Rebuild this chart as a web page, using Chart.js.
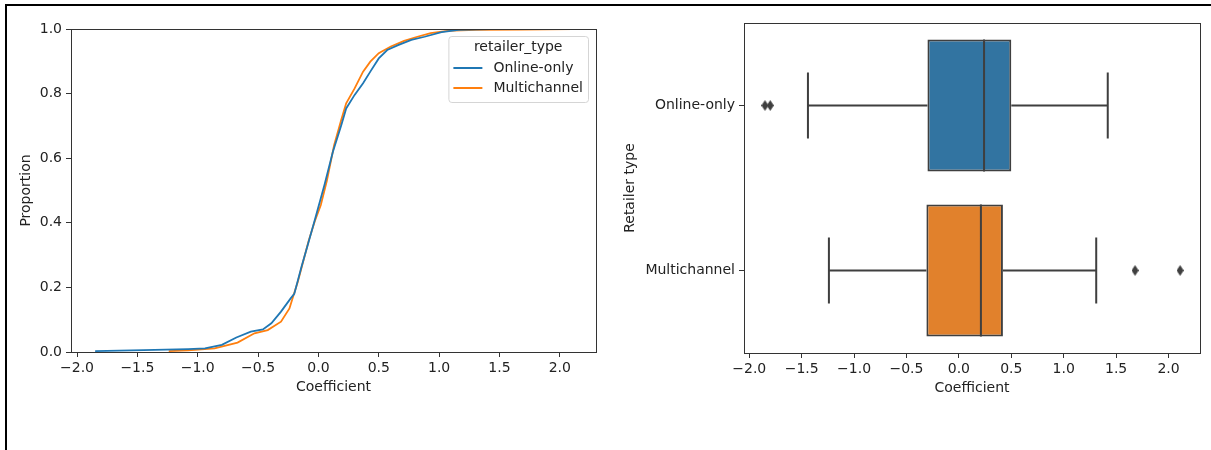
<!DOCTYPE html>
<html>
<head>
<meta charset="utf-8">
<script src="https://cdn.jsdelivr.net/npm/chart.js@4.4.1/dist/chart.umd.min.js"></script>
<style>
  html, body { margin: 0; padding: 0; background: #fff; }
  #wrap { position: relative; width: 1211px; height: 450px; overflow: hidden; }
  #frame { position: absolute; left: 5px; top: 4px; right: 0; bottom: 0; border-top: 2px solid #000; border-left: 2px solid #000; }
  #ecdfChart { position: absolute; left: 0; top: 0; }
  #boxChart { position: absolute; left: 600px; top: 0; }
</style>
</head>
<body>
<div id="wrap">
  <div id="frame"></div>
  <canvas id="ecdfChart" width="600" height="450"></canvas>
  <canvas id="boxChart" width="611" height="450"></canvas>
</div>
<script>
var groups = ['Online-only', 'Multichannel'];
var legendTitle = 'retailer_type';
var ecdfColors = ['#1f77b4', '#ff7f0e'];
var boxColors = ['#3274a1', '#e1812c'];

// ECDF curves
var onlineX = [-1.85, -1.45, -1.08, -0.94, -0.80, -0.68, -0.56, -0.46, -0.39, -0.31, -0.23, -0.20, -0.14, -0.085, -0.03, 0.05, 0.12, 0.19, 0.23, 0.30, 0.37, 0.43, 0.50, 0.57, 0.66, 0.77, 0.88, 1.02, 1.16, 1.43];
var onlineP = [0.003, 0.006, 0.009, 0.011, 0.022, 0.045, 0.063, 0.070, 0.089, 0.125, 0.166, 0.180, 0.264, 0.336, 0.409, 0.517, 0.620, 0.703, 0.754, 0.796, 0.832, 0.868, 0.909, 0.935, 0.950, 0.966, 0.976, 0.990, 0.997, 1.0];
var multiX = [-1.24, -1.08, -0.86, -0.67, -0.53, -0.42, -0.31, -0.24, -0.21, -0.17, -0.13, -0.08, -0.03, 0.02, 0.07, 0.13, 0.19, 0.23, 0.30, 0.37, 0.43, 0.50, 0.60, 0.71, 0.82, 0.93, 1.07, 1.18, 1.31, 1.68, 2.11];
var multiP = [0.003, 0.005, 0.011, 0.029, 0.058, 0.068, 0.094, 0.135, 0.171, 0.218, 0.275, 0.345, 0.405, 0.455, 0.530, 0.640, 0.720, 0.770, 0.816, 0.868, 0.899, 0.925, 0.946, 0.963, 0.976, 0.987, 0.994, 0.996, 0.997, 0.998, 1.0];

// box plot stats
var whiskLo = [-1.44, -1.24];
var q1 = [-0.30, -0.31];
var med = [0.24, 0.21];
var q3 = [0.50, 0.42];
var whiskHi = [1.42, 1.31];
var outX = [-1.85, -1.80, 1.68, 2.11];
var outGroup = ['Online-only', 'Online-only', 'Multichannel', 'Multichannel'];

var xTicks = [-2, -1.5, -1, -0.5, 0, 0.5, 1, 1.5, 2];
var yTicks = [0, 0.2, 0.4, 0.6, 0.8, 1.0];

Chart.defaults.font.family = "'DejaVu Sans', sans-serif";
Chart.defaults.font.size = 14;
Chart.defaults.color = '#222';

function fmt(v) {
  return (v < 0 ? '\u2212' : '') + Math.abs(v).toFixed(1);
}
function toPoints(xs, ps) {
  return xs.map(function (x, i) { return { x: x, y: ps[i] }; });
}
function setTicks(list) {
  return function (axis) { axis.ticks = list.map(function (v) { return { value: v }; }); };
}

var axisGrid = { drawOnChartArea: false, drawTicks: true, tickLength: 5, color: '#333', offset: false };

var framePlugin = {
  id: 'frame',
  afterDatasetsDraw: function (chart) {
    var a = chart.chartArea, ctx = chart.ctx;
    ctx.save();
    ctx.strokeStyle = '#333';
    ctx.lineWidth = 1;
    ctx.strokeRect(Math.round(a.left) + 0.5, Math.round(a.top) + 0.5,
      Math.round(a.right - a.left), Math.round(a.bottom - a.top));
    ctx.restore();
  }
};

var legendPlugin = {
  id: 'boxLegend',
  afterDatasetsDraw: function (chart) {
    var ctx = chart.ctx, a = chart.chartArea;
    var sets = chart.data.datasets;
    ctx.save();
    ctx.font = "14px 'DejaVu Sans'";
    var textW = Math.max.apply(null, sets.map(function (d) { return ctx.measureText(d.label).width; }));
    var w = 5 + 29 + 11 + textW + 5;
    var h = 66;
    var x0 = a.right - 8 - w, y0 = a.top + 7;
    ctx.beginPath();
    ctx.roundRect(x0 + 0.5, y0 + 0.5, w, h, 3);
    ctx.fillStyle = 'rgba(255,255,255,0.8)';
    ctx.fill();
    ctx.strokeStyle = '#d5d5d5';
    ctx.lineWidth = 1;
    ctx.stroke();
    ctx.fillStyle = '#222';
    ctx.textBaseline = 'middle';
    ctx.textAlign = 'center';
    ctx.fillText(legendTitle, x0 + w / 2, y0 + 11);
    ctx.textAlign = 'left';
    sets.forEach(function (d, i) {
      var cy = y0 + 32 + i * 20;
      ctx.strokeStyle = d.borderColor;
      ctx.lineWidth = 2;
      ctx.beginPath();
      ctx.moveTo(x0 + 5, cy);
      ctx.lineTo(x0 + 34, cy);
      ctx.stroke();
      ctx.fillText(d.label, x0 + 45, cy);
    });
    ctx.restore();
  }
};

new Chart(document.getElementById('ecdfChart'), {
  type: 'line',
  data: {
    datasets: [
      { label: groups[0], data: toPoints(onlineX, onlineP), borderColor: ecdfColors[0], borderWidth: 1.8, pointRadius: 0, fill: false, order: 0 },
      { label: groups[1], data: toPoints(multiX, multiP), borderColor: ecdfColors[1], borderWidth: 1.8, pointRadius: 0, fill: false, order: 1 }
    ]
  },
  options: {
    responsive: false,
    animation: false,
    layout: { padding: { left: 14, top: 29, right: 4, bottom: 50 } },
    plugins: { legend: { display: false }, tooltip: { enabled: false } },
    scales: {
      x: {
        type: 'linear', min: -2.05, max: 2.3,
        afterBuildTicks: setTicks(xTicks),
        afterFit: function (s) { s.height = 48; },
        grid: axisGrid,
        border: { display: false },
        ticks: { callback: fmt, padding: 3, maxRotation: 0, autoSkip: false },
        title: { display: true, text: 'Coefficient', padding: { top: 4, bottom: 4 } }
      },
      y: {
        type: 'linear', min: 0, max: 1,
        afterBuildTicks: setTicks(yTicks),
        afterFit: function (s) { s.width = 57; },
        grid: axisGrid,
        border: { display: false },
        ticks: { callback: function (v) { return v.toFixed(1); }, padding: 4, autoSkip: false },
        title: { display: true, text: 'Proportion', padding: { top: 4, bottom: 4 } }
      }
    }
  },
  plugins: [framePlugin, legendPlugin]
});

var diamond = document.createElement('canvas');
diamond.width = 7;
diamond.height = 11;
var dctx = diamond.getContext('2d');
dctx.fillStyle = '#3f3f3f';
dctx.beginPath();
dctx.moveTo(3.5, 0);
dctx.lineTo(7, 5.5);
dctx.lineTo(3.5, 11);
dctx.lineTo(0, 5.5);
dctx.closePath();
dctx.fill();

var whiskerPlugin = {
  id: 'whiskers',
  afterDatasetsDraw: function (chart) {
    var xs = chart.scales.x, ys = chart.scales.y, ctx = chart.ctx;
    var band = Math.abs(ys.getPixelForValue(1) - ys.getPixelForValue(0));
    var half = band * 0.8 / 2, capHalf = half / 2;
    ctx.save();
    ctx.strokeStyle = '#3f3f3f';
    ctx.lineWidth = 2;
    groups.forEach(function (g, i) {
      var cy = ys.getPixelForValue(i);
      var lo = xs.getPixelForValue(whiskLo[i]);
      var a = xs.getPixelForValue(q1[i]);
      var m = xs.getPixelForValue(med[i]);
      var b = xs.getPixelForValue(q3[i]);
      var hi = xs.getPixelForValue(whiskHi[i]);
      ctx.beginPath();
      ctx.moveTo(lo, cy); ctx.lineTo(a, cy);
      ctx.moveTo(b, cy); ctx.lineTo(hi, cy);
      ctx.moveTo(lo, cy - capHalf); ctx.lineTo(lo, cy + capHalf);
      ctx.moveTo(hi, cy - capHalf); ctx.lineTo(hi, cy + capHalf);
      ctx.moveTo(m, cy - half); ctx.lineTo(m, cy + half);
      ctx.stroke();
    });
    ctx.restore();
  }
};

new Chart(document.getElementById('boxChart'), {
  type: 'bar',
  data: {
    labels: groups,
    datasets: [
      {
        type: 'bar',
        data: q1.map(function (v, i) { return [v, q3[i]]; }),
        backgroundColor: boxColors,
        borderColor: '#3f3f3f',
        borderWidth: 2,
        borderSkipped: false,
        categoryPercentage: 0.8,
        barPercentage: 1.0
      },
      {
        type: 'scatter',
        data: outX.map(function (v, i) { return { x: v, y: outGroup[i] }; }),
        pointStyle: diamond,
        pointRadius: 5
      }
    ]
  },
  options: {
    indexAxis: 'y',
    responsive: false,
    animation: false,
    layout: { padding: { left: 18, top: 23, right: 11, bottom: 49 } },
    plugins: { legend: { display: false }, tooltip: { enabled: false } },
    scales: {
      x: {
        type: 'linear', min: -2.05, max: 2.3, offset: false,
        afterBuildTicks: setTicks(xTicks),
        afterFit: function (s) { s.height = 48; },
        grid: axisGrid,
        border: { display: false },
        ticks: { callback: fmt, padding: 3, maxRotation: 0, autoSkip: false },
        title: { display: true, text: 'Coefficient', padding: { top: 4, bottom: 4 } }
      },
      y: {
        type: 'category', labels: groups, offset: true,
        afterFit: function (s) { s.width = 126; },
        grid: axisGrid,
        border: { display: false },
        ticks: { padding: 4 },
        title: { display: true, text: 'Retailer type', padding: { top: 4, bottom: 4 } }
      }
    }
  },
  plugins: [whiskerPlugin, framePlugin]
});
</script>
</body>
</html>
